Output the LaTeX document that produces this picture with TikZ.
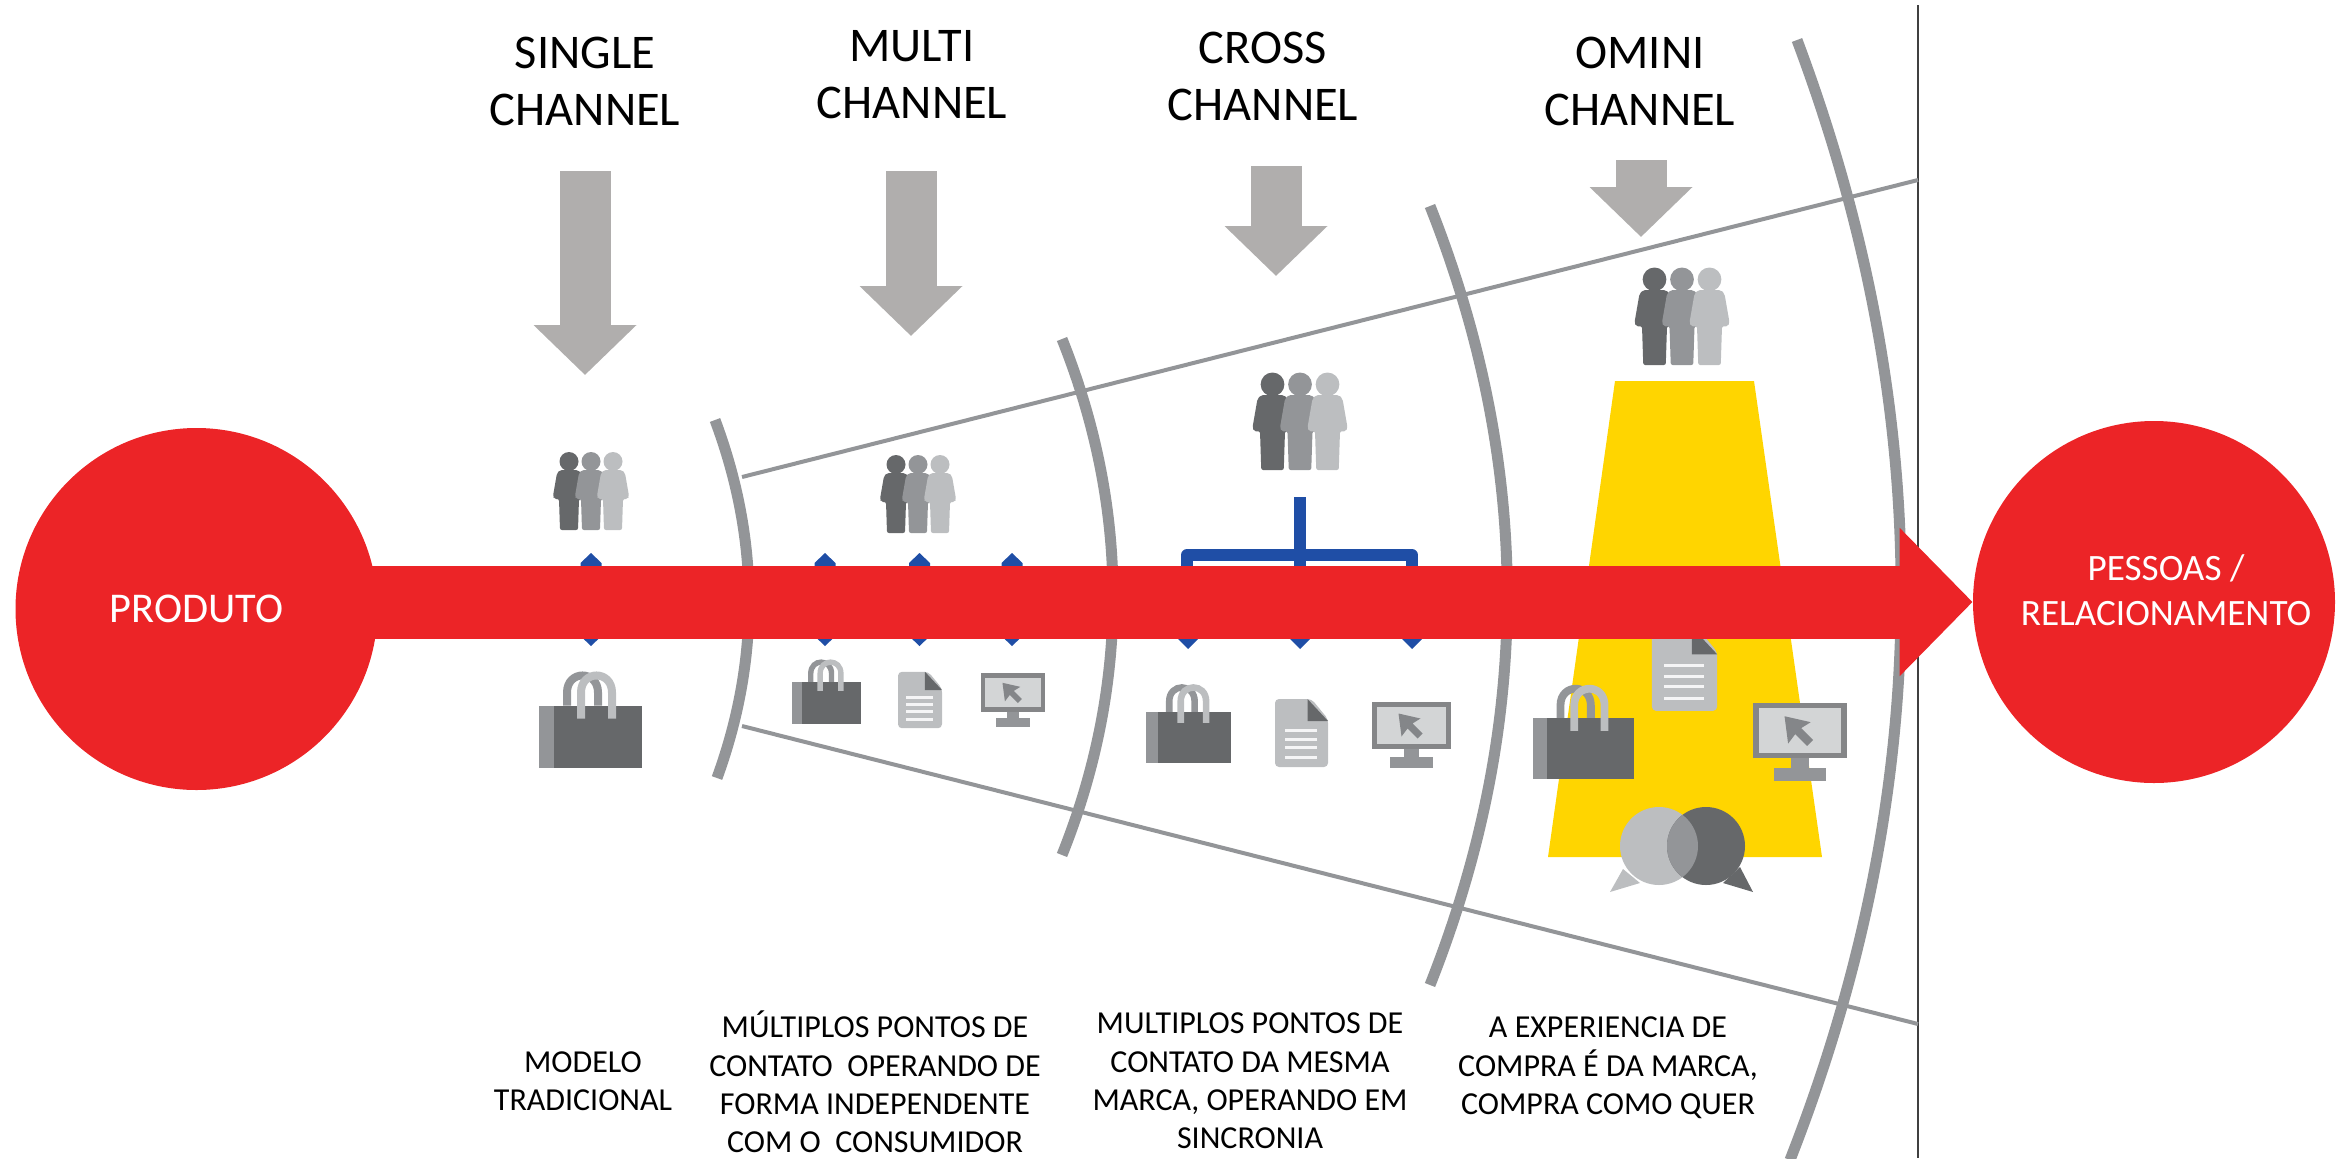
\documentclass[tikz,border=0pt]{standalone}
\usepackage{fontspec}
\setmainfont{Carlito}
\usetikzlibrary{arrows.meta}

\definecolor{redmain}{HTML}{EC2427}
\definecolor{bluelink}{HTML}{1F4EA6}
\definecolor{yellowcone}{HTML}{FFD500}
\definecolor{greyarrow}{HTML}{B0AEAD}
\definecolor{greyarc}{HTML}{939598}
\definecolor{greydark}{HTML}{66686A}
\definecolor{greymid}{HTML}{939598}
\definecolor{greylight}{HTML}{BCBEC0}

\tikzset{
  persona/.pic={
    \fill[#1] (0,-68.5) circle [radius=9.5];
    \fill[#1,rounded corners=1pt] (-9,-60) -- (9,-60) -- (12,-57) -- (16,-34) -- (15,-31) -- (10,-31)
      -- (9,0) -- (-9,0) -- (-10,-31) -- (-15,-31) -- (-16,-34) -- (-12,-57) -- cycle;
  },
  peopleicon/.pic={
    \pic[transform shape] at (-22,0) {persona=greydark};
    \pic[transform shape] at (0,0) {persona=greymid};
    \pic[transform shape] at (22,0) {persona=greylight};
  },
  bagicon/.pic={
    \draw[greymid,line width=#1pt] (-23.5,-31) -- (-23.5,-44) .. controls (-23.5,-66.7) and (7.5,-66.7) .. (7.5,-44) -- (7.5,-31);
    \fill[greymid] (-51.5,-31) rectangle (-37,31);
    \fill[greydark] (-37,-31) rectangle (51.5,31);
    \draw[greylight,line width=#1pt] (-9.5,-18) -- (-9.5,-44) .. controls (-9.5,-66.7) and (21.5,-66.7) .. (21.5,-44) -- (21.5,-18);
  },
  docicon/.pic={
    \fill[greylight,rounded corners=2pt] (-26.5,-34) -- (10,-34) -- (26.5,-14) -- (26.5,34) -- (-26.5,34) -- cycle;
    \fill[greydark] (6,-34) -- (26.5,-12) -- (6,-12) -- cycle;
    \foreach \ly in {-3,6,14,24}
      \draw[white!85!greylight,line width=1.5pt] (-16.5,\ly) -- (15.5,\ly);
  },
  screenicon/.pic={
    \fill[greymid] (-7.5,23) rectangle (7.5,32);
    \fill[greymid] (-21.5,31.5) rectangle (21.5,42.5);
    \fill[greydark!80!white] (-39.5,-23.5) rectangle (39.5,23.5);
    \fill[white!35!greylight] (-34.5,-18.5) rectangle (34.5,18.5);
    \fill[greymid!90!black] (-13,-12) -- (-10,11) -- (-4,3) -- (6,13) -- (11,8) -- (1,-2) -- (9,-7) -- cycle;
  },
  heading/.style={font=\fontsize{24.2}{28.5}\selectfont,align=center},
  caption/.style={font=\fontsize{16}{19.2}\selectfont,align=center},
  endcircle/.style={circle,fill=redmain,minimum size=181pt,inner sep=0pt},
  whitelab/.style={text=white,align=center},
  chanarc/.style={draw=greyarc,line width=5.5pt},
  ray/.style={draw=greyarc,line width=2pt},
  downarrow/.style={draw=greyarrow,line width=25.5pt,-{Triangle[length=25pt,width=50pt]}},
  bluelinks/.style={draw=bluelink,line width=5.8pt,line join=round},
  bluetip/.style={fill=bluelink}
}

\begin{document}
\begin{tikzpicture}[x=.5pt,y=-.5pt]
  \useasboundingbox (0,0) rectangle (2351,1158);

  %frontier line
  \coordinate (linetop) at (1918,5);
  \coordinate (linebottom) at (1918,1158);
  \draw[black!75,line width=.8pt] (linetop) -- (linebottom);

  %arcs
  \draw[chanarc] (715,420) .. controls (760,540) and (760,660) .. (717,778);
  \draw[chanarc] (1062,339) .. controls (1130,509) and (1130,685) .. (1062,855);
  \draw[chanarc] (1430,206) .. controls (1533,466) and (1533,725) .. (1430,985);
  \draw[chanarc] (1797,40) .. controls (1937,413) and (1937,785) .. (1790,1160);

  %rays
  \coordinate (rayup) at (742,477);
  \coordinate (rayupend) at (1918,180);
  \coordinate (raydown) at (742,726);
  \coordinate (raydownend) at (1918,1024);
  \draw[ray] (rayup) -- (rayupend);
  \draw[ray] (raydown) -- (raydownend);

  %yellow cone
  \fill[yellowcone] (1615,381) -- (1754,381) -- (1822,857) -- (1548,857) -- cycle;

  %grey arrows
  \coordinate (s1) at (585,171);
  \coordinate (e1) at (585,375);
  \coordinate (s2) at (911,171);
  \coordinate (e2) at (911,336);
  \coordinate (s3) at (1276,166);
  \coordinate (e3) at (1276,276);
  \coordinate (s4) at (1641,160);
  \coordinate (e4) at (1641,237);
  \draw[downarrow] (s1) -- (e1);
  \draw[downarrow] (s2) -- (e2);
  \draw[downarrow] (s3) -- (e3);
  \draw[downarrow] (s4) -- (e4);

  %people
  \pic (people1) at (591,530) {peopleicon};
  \pic (people2) at (918,533) {peopleicon};
  \pic[scale=1.25] (people3) at (1300,470) {peopleicon};
  \pic[scale=1.25] (people4) at (1682,365) {peopleicon};

  %bags
  \pic (bag1) at (590.5,736.5) {bagicon=4};
  \pic[scale=.67] (bag2) at (826.5,703) {bagicon=2.7};
  \pic[scale=.82] (bag3) at (1188.5,737.5) {bagicon=3.3};
  \pic[scale=.98] (bag4) at (1583.5,748.5) {bagicon=3.9};

  %documents
  \pic[scale=.83] (doc2) at (920,700) {docicon};
  \pic (doc3) at (1301.5,733) {docicon};
  \pic[scale=1.23] (doc4) at (1684.5,669) {docicon};

  %screens
  \pic[scale=.81] (screen2) at (1013,692.5) {screenicon};
  \pic (screen3) at (1411.5,725.5) {screenicon};
  \pic[scale=1.19] (screen4) at (1800,730.5) {screenicon};

  %speech bubbles
  \fill[greylight] (1659,846) ellipse [x radius=39,y radius=39];
  \fill[greylight] (1623,869) -- (1610,892) -- (1640,883) -- cycle;
  \fill[greydark] (1706,846) ellipse [x radius=39,y radius=39];
  \fill[greydark] (1740,867) -- (1753,892) -- (1723,883) -- cycle;
  \begin{scope}
    \clip (1659,846) ellipse [x radius=39,y radius=39];
    \fill[greymid] (1706,846) ellipse [x radius=39,y radius=39];
  \end{scope}

  %blue links under the arrow
  \foreach \bx in {591,825,919.5,1012}
    \fill[bluetip] (\bx,553) -- (\bx+10.5,563) -- (\bx+10.5,636) -- (\bx,646) -- (\bx-10.5,636) -- (\bx-10.5,563) -- cycle;
  \coordinate (busroot) at (1300,497);
  \coordinate (busmid) at (1300,620);
  \coordinate (busleft) at (1187,620);
  \coordinate (busright) at (1412,620);
  \coordinate (bustop) at (1300,555);
  \draw[bluelinks] (busroot) -- (busmid);
  \draw[bluelinks] (busleft) |- (bustop) -| (busright);
  \foreach \bx in {1188,1300,1412}
    \fill[bluetip] (\bx-12,637) -- (\bx+12,637) -- (\bx,649) -- cycle;

  %end circles and main arrow
  \node[endcircle,whitelab,font=\fontsize{21.2}{25}\selectfont] (produto) at (196.5,609) {PRODUTO};
  \node[endcircle] (pessoas) at (2154,602) {};
  \draw[redmain,line width=36.5pt,shorten <=-4pt,-{Triangle[length=36.5pt,width=72pt]}] (produto.east |- pessoas) -- (pessoas);
  \node[whitelab,font=\fontsize{18.6}{22.5}\selectfont] (pessoaslab) at (2166,590) {PESSOAS /\\RELACIONAMENTO};

  %headings
  \node[heading] (single) at (585,81.5) {SINGLE\\CHANNEL};
  \node[heading] (multi) at (912,74.5) {MULTI\\CHANNEL};
  \node[heading] (cross) at (1263,76.5) {CROSS\\CHANNEL};
  \node[heading] (omini) at (1640,81.5) {OMINI\\CHANNEL};

  %captions
  \node[caption] (cap1) at (583,1081.5) {MODELO\\TRADICIONAL};
  \node[caption] (cap2) at (875,1082) {MÚLTIPLOS PONTOS DE\\CONTATO\ \ OPERANDO DE\\FORMA INDEPENDENTE\\COM O\ \ CONSUMIDOR};
  \node[caption] (cap3) at (1250,1081) {MULTIPLOS PONTOS DE\\CONTATO DA MESMA\\MARCA, OPERANDO EM\\SINCRONIA};
  \node[caption] (cap4) at (1608,1068) {A EXPERIENCIA DE\\COMPRA É DA MARCA,\\COMPRA COMO QUER};
\end{tikzpicture}
\end{document}
